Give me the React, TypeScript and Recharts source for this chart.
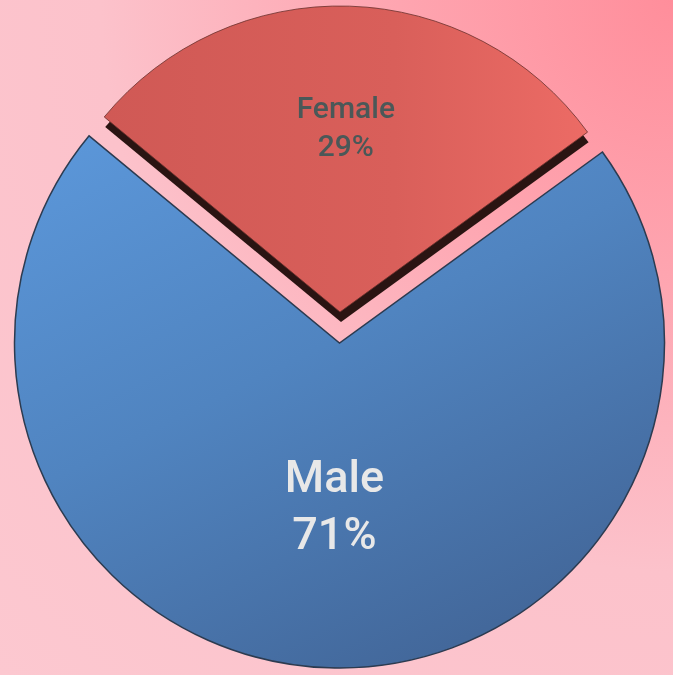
import React from 'react'
import { PieChart, Pie, Cell } from 'recharts'

const categories = ['Female', 'Male']
const shares = [29, 71]

const data = categories.map((name, i) => ({ name, value: shares[i] }))

const RAD = Math.PI / 180

// label drawn at a fraction of the radius along the slice's mid angle
const makeLabel = (which: string, k: number, fontSize: number, color: string) => (props: any) => {
  const { cx, cy, midAngle, outerRadius, name, value } = props
  if (name !== which) return null
  const r = outerRadius * k
  const x = cx + r * Math.cos(-midAngle * RAD)
  const y = cy + r * Math.sin(-midAngle * RAD)
  const y1 = y - fontSize * 0.3
  return (
    <text
      x={x}
      y={y1}
      textAnchor="middle"
      fill={color}
      fontSize={fontSize}
      fontWeight={500}
      fontFamily="Roboto, 'Noto Sans', sans-serif"
    >
      <tspan x={x} y={y1}>{name}</tspan>
      <tspan x={x} y={y1 + fontSize * 1.27}>{`${value}%`}</tspan>
    </text>
  )
}

export default function App() {
  return (
    <div
      style={{
        position: 'fixed',
        left: 0,
        top: 0,
        width: 673,
        height: 675,
        background:
          'radial-gradient(circle at 100% 0%, #ff8e9b 0%, #fea6b1 30%, #fcc2cb 60%, #fcc8d0 100%)',
      }}
    >
      <PieChart width={673} height={675} margin={{ top: 0, right: 0, bottom: 0, left: 0 }}>
        <defs>
          <linearGradient id="maleGrad" x1="0" y1="0" x2="0.6" y2="1">
            <stop offset="0%" stopColor="#5c98db" />
            <stop offset="50%" stopColor="#5084c0" />
            <stop offset="100%" stopColor="#43689b" />
          </linearGradient>
          <linearGradient id="femaleGrad" x1="0" y1="0" x2="1" y2="0">
            <stop offset="0%" stopColor="#d05955" />
            <stop offset="60%" stopColor="#d95f5a" />
            <stop offset="100%" stopColor="#ec6b65" />
          </linearGradient>
        </defs>

        {/* male slice */}
        <Pie
          data={data}
          dataKey="value"
          nameKey="name"
          cx={339.5}
          cy={343}
          outerRadius={325}
          startAngle={36}
          endAngle={396}
          labelLine={false}
          label={makeLabel('Male', 0.5, 45, '#e8e8e8')}
          isAnimationActive={false}
        >
          <Cell fill="none" stroke="none" />
          <Cell fill="url(#maleGrad)" stroke="#2c3b50" strokeWidth={1.5} />
        </Pie>

        {/* female slice, dark side */}
        <Pie
          data={data}
          dataKey="value"
          nameKey="name"
          cx={341}
          cy={322}
          outerRadius={306}
          startAngle={36}
          endAngle={396}
          labelLine={false}
          isAnimationActive={false}
        >
          <Cell fill="#2a1412" stroke="none" />
          <Cell fill="none" stroke="none" />
        </Pie>

        {/* female slice, face */}
        <Pie
          data={data}
          dataKey="value"
          nameKey="name"
          cx={340}
          cy={312}
          outerRadius={306}
          startAngle={36}
          endAngle={396}
          labelLine={false}
          label={makeLabel('Female', 0.605, 30, '#4a5858')}
          isAnimationActive={false}
        >
          <Cell fill="url(#femaleGrad)" stroke="#6a302c" strokeWidth={0.8} />
          <Cell fill="none" stroke="none" />
        </Pie>
      </PieChart>
    </div>
  )
}
